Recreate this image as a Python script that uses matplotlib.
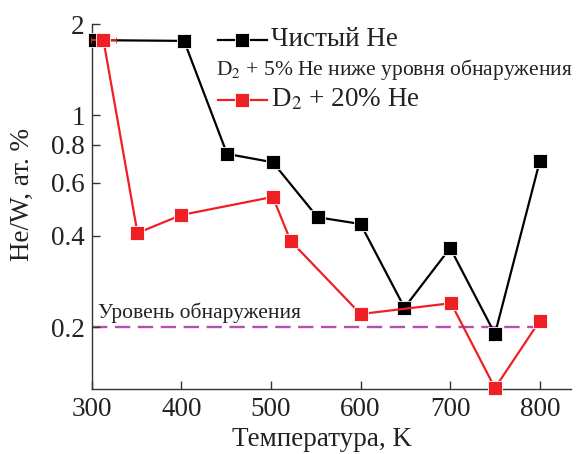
import matplotlib
matplotlib.use("Agg")
import matplotlib.pyplot as plt
from matplotlib.ticker import FixedLocator, NullLocator, FixedFormatter

plt.rcParams['font.family'] = ['Liberation Serif', 'DejaVu Serif']
plt.rcParams['mathtext.fontset'] = 'stix'

# Pure He exposure
t_pure = [304, 403, 451, 502, 552, 600, 649, 700, 750, 800]
he_pure = [1.77, 1.76, 0.746, 0.70, 0.461, 0.438, 0.232, 0.365, 0.19, 0.705]

# D2 + 20% He exposure
t_mix = [313, 351, 400, 502, 522, 600, 701, 750, 800]
he_mix = [1.77, 0.409, 0.469, 0.538, 0.385, 0.221, 0.240, 0.126, 0.21]
t_mix_err = [14, 0, 0, 0, 0, 0, 0, 0, 0]

detection_level = 0.2
y_ticks = [0.2, 0.4, 0.6, 0.8, 1, 2]
y_tick_labels = ['0.2', '0.4', '0.6', '0.8', '1', '2']
x_ticks = [300, 400, 500, 600, 700, 800]

fig = plt.figure(figsize=(5.81, 4.54), dpi=100)
ax = fig.add_axes([0.158, 0.143, 0.825, 0.804])

black = '#000000'
red = '#ee2024'
magenta = '#b44fb4'
text_col = '#222222'
big = 19.5
small = 15.5
lw = 1.6

ax.plot([300, 811], [detection_level, detection_level], ls=(0, (6.5, 3.2)),
        color=magenta, lw=1.7, zorder=1)
ax.text(307, detection_level * 1.035, 'Уровень обнаружения', fontsize=small,
        color=text_col, va='bottom', ha='left')

ax.plot(t_pure, he_pure, '-s', color=black, lw=lw, ms=10.5,
        markeredgecolor='white', markeredgewidth=0.6, zorder=3, clip_on=False)
ax.errorbar(t_mix, he_mix, xerr=t_mix_err, fmt='-s', color=red, lw=lw,
            ms=10.5, markeredgecolor='white', markeredgewidth=0.6,
            ecolor=red, elinewidth=1.3, capsize=2, zorder=4, clip_on=False)

ax.set_yscale('log')
ax.set_xlim(300, 835)
ax.set_ylim(0.125, 2)
ax.yaxis.set_major_locator(FixedLocator(y_ticks))
ax.yaxis.set_major_formatter(FixedFormatter(y_tick_labels))
ax.yaxis.set_minor_locator(NullLocator())
ax.set_xticks(x_ticks)

for s in ['top', 'right']:
    ax.spines[s].set_visible(False)
for s in ['left', 'bottom']:
    ax.spines[s].set_linewidth(1.0)
    ax.spines[s].set_color('#333333')

ax.tick_params(direction='in', length=6, width=1.0, colors='#333333',
               labelsize=big, labelcolor=text_col)
ax.tick_params(axis='x', pad=6)
ax.tick_params(axis='y', pad=5)

ax.set_xlabel('Температура, K', fontsize=big, color=text_col, va='center')
ax.xaxis.set_label_coords(0.48, -0.137)
ax.set_ylabel('He/W, ат. %', fontsize=big, color=text_col, va='center')
ax.yaxis.set_label_coords(-0.145, 0.534)

# Legend drawn as text lines in figure coordinates
def fx(px):
    return px / 581

def fy(py):
    return 1 - py / 454

fig.add_artist(plt.Line2D([fx(218), fx(242), fx(267)], [fy(40)] * 3,
                          color=black, lw=lw, marker='s', markevery=[1],
                          ms=10.5, markeredgecolor='white', markeredgewidth=0.6))
fig.text(fx(271), fy(40), 'Чистый He', fontsize=big, va='center', ha='left',
         color=text_col)
fig.text(fx(216), fy(70), 'D$_2$ + 5% He ниже уровня обнаружения', fontsize=small,
         va='center', ha='left', color=text_col)
fig.add_artist(plt.Line2D([fx(218), fx(242), fx(267)], [fy(100)] * 3,
                          color=red, lw=lw, marker='s', markevery=[1],
                          ms=10.5, markeredgecolor='white', markeredgewidth=0.6))
fig.text(fx(271), fy(100), 'D$_2$ + 20% He', fontsize=big, va='center',
         ha='left', color=text_col)

fig.savefig('out.png', dpi=100)
